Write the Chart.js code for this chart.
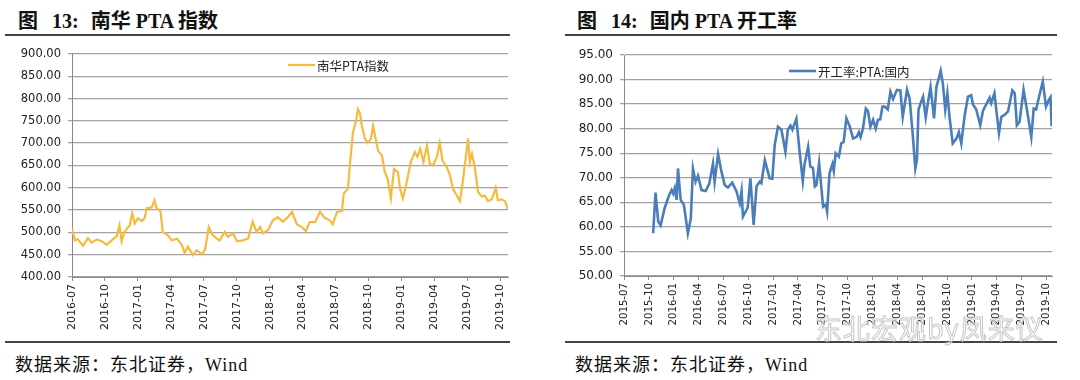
<!DOCTYPE html>
<html>
<head>
<meta charset="utf-8">
<script src="https://cdn.jsdelivr.net/npm/chart.js@4.4.0/dist/chart.umd.min.js"></script>
<style>
  body { margin: 0; width: 1080px; height: 380px; background: #fff; position: relative; overflow: hidden; }
  .title { position: absolute; top: 5px; font: bold 20px "Liberation Serif", "Noto Sans CJK SC", serif; color: #111; white-space: pre; }
  .rule { position: absolute; height: 2px; background: #444; }
  .source { position: absolute; top: 350px; font: 18px "Liberation Serif", "Noto Sans CJK SC", serif; color: #111; letter-spacing: 1px; }
  canvas { position: absolute; top: 40px; }
  .mark { position: absolute; left: 815px; top: 308px; font: 27px "Noto Sans CJK SC", sans-serif; color: rgba(255,255,255,0.4); -webkit-text-stroke: 1px #c8c8c8; letter-spacing: 1px; }
</style>
</head>
<body>
<div class="title" style="left:18px">图<span style="margin-left:14px">13:</span><span style="margin-left:12px">南华 PTA 指数</span></div>
<div class="rule" style="left:5px; width:505px; top:34px"></div>
<canvas id="ptaChart" width="520" height="300" style="left:0px"></canvas>
<div class="rule" style="left:5px; width:505px; top:341px"></div>
<div class="source" style="left:15px">数据来源：东北证券，Wind</div>

<div class="title" style="left:577px">图<span style="margin-left:14px">14:</span><span style="margin-left:12px">国内 PTA 开工率</span></div>
<div class="rule" style="left:565px; width:492px; top:34px"></div>
<canvas id="rateChart" width="510" height="300" style="left:560px"></canvas>
<div class="rule" style="left:565px; width:492px; top:341px"></div>
<div class="source" style="left:575px">数据来源：东北证券，Wind</div>
<div class="mark">东北宏观by凤来仪</div>

<script>
// 南华PTA指数
const ptaDates = [
  '2016-07-01','2016-07-09','2016-07-17','2016-08-01','2016-08-15','2016-08-26','2016-09-09','2016-09-23',
  '2016-10-06','2016-10-20','2016-11-03','2016-11-11','2016-11-17','2016-11-25','2016-12-09','2016-12-16',
  '2016-12-23','2017-01-01','2017-01-12','2017-01-20','2017-01-26','2017-02-09','2017-02-17','2017-02-22',
  '2017-03-03','2017-03-09','2017-03-23','2017-04-04','2017-04-18','2017-05-01','2017-05-09','2017-05-18',
  '2017-06-01','2017-06-12','2017-06-26','2017-07-04','2017-07-09','2017-07-15','2017-07-26','2017-08-07',
  '2017-08-15','2017-08-29','2017-09-07','2017-09-21','2017-10-02','2017-10-18','2017-11-02','2017-11-15',
  '2017-11-26','2017-12-05','2017-12-13','2017-12-27','2018-01-10','2018-01-24','2018-02-07','2018-02-21',
  '2018-03-02','2018-03-16','2018-03-30','2018-04-10','2018-04-21','2018-05-05','2018-05-19','2018-06-02',
  '2018-06-16','2018-06-24','2018-07-05','2018-07-19','2018-07-24','2018-08-05','2018-08-11','2018-08-19',
  '2018-08-28','2018-09-02','2018-09-08','2018-09-13','2018-09-22','2018-09-30','2018-10-08','2018-10-14',
  '2018-10-22','2018-10-28','2018-11-08','2018-11-16','2018-11-24','2018-12-02','2018-12-11','2018-12-22',
  '2018-12-28','2019-01-05','2019-01-16','2019-01-27','2019-02-08','2019-02-15','2019-02-23','2019-03-01',
  '2019-03-11','2019-03-19','2019-03-28','2019-04-08','2019-04-16','2019-04-24','2019-05-05','2019-05-14',
  '2019-05-22','2019-06-02','2019-06-11','2019-06-19','2019-07-03','2019-07-08','2019-07-14','2019-07-22',
  '2019-07-31','2019-08-11','2019-08-19','2019-08-28','2019-09-08','2019-09-19','2019-09-25','2019-10-05',
  '2019-10-14','2019-10-22'
];
const ptaValues = [
  508, 482, 485, 470, 487, 477, 484, 480,
  472, 482, 491, 516, 480, 501, 516, 543,
  520, 532, 525, 532, 554, 556, 572, 556,
  546, 501, 494, 482, 486, 472, 454, 468,
  449, 460, 451, 460, 482, 512, 494, 486,
  482, 501, 490, 498, 480, 482, 486, 524,
  501, 512, 498, 505, 527, 534, 524, 534,
  546, 518, 512, 503, 523, 523, 546, 532,
  527, 518, 546, 548, 587, 598, 657, 724,
  750, 776, 767, 739, 710, 700, 710, 739,
  706, 683, 672, 635, 620, 576, 642, 635,
  598, 576, 613, 657, 680, 669, 687, 657,
  695, 654, 650, 669, 700, 661, 646, 628,
  598, 583, 570, 613, 710, 657, 676, 646,
  591, 580, 583, 570, 574, 600, 572, 574,
  570, 553
];

// 开工率:PTA:国内
const rateDates = [
  '2015-10-17','2015-10-26','2015-11-05','2015-11-14','2015-11-29','2015-12-15','2015-12-24','2015-12-30',
  '2016-01-05','2016-01-12','2016-01-17','2016-01-27','2016-02-08','2016-02-23','2016-03-03','2016-03-11',
  '2016-03-21','2016-03-30','2016-04-12','2016-04-28','2016-05-10','2016-05-24','2016-05-30','2016-06-12',
  '2016-06-25','2016-07-06','2016-07-18','2016-08-03','2016-08-19','2016-08-31','2016-09-07','2016-09-12',
  '2016-09-30','2016-10-09','2016-10-21','2016-11-01','2016-11-13','2016-11-19','2016-12-01','2016-12-19',
  '2016-12-29','2017-01-07','2017-01-19','2017-02-01','2017-02-16','2017-02-25','2017-03-04','2017-03-11',
  '2017-03-26','2017-04-07','2017-04-19','2017-04-25','2017-05-08','2017-05-16','2017-05-26','2017-06-02',
  '2017-06-08','2017-06-18','2017-07-02','2017-07-12','2017-07-17','2017-07-26','2017-08-06','2017-08-11',
  '2017-08-18','2017-08-30','2017-09-08','2017-09-17','2017-09-27','2017-10-09','2017-10-21','2017-11-03',
  '2017-11-12','2017-11-18','2017-11-27','2017-12-07','2017-12-15','2017-12-24','2018-01-03','2018-01-13',
  '2018-01-21','2018-01-30','2018-02-07','2018-02-15','2018-02-27','2018-03-06','2018-03-16','2018-03-30',
  '2018-04-12','2018-04-21','2018-05-06','2018-05-16','2018-05-28','2018-06-06','2018-06-12','2018-06-18',
  '2018-06-28','2018-07-04','2018-07-14','2018-07-22','2018-08-01','2018-08-14','2018-08-23','2018-09-01',
  '2018-09-08','2018-09-16','2018-09-25','2018-10-02','2018-10-10','2018-10-22','2018-11-05','2018-11-14',
  '2018-11-23','2018-12-05','2018-12-17','2018-12-29','2019-01-05','2019-01-17','2019-02-01','2019-02-11',
  '2019-02-23','2019-03-05','2019-03-11','2019-03-23','2019-04-09','2019-04-18','2019-04-30','2019-05-12',
  '2019-05-28','2019-06-06','2019-06-14','2019-06-24','2019-07-08','2019-07-24','2019-08-06','2019-08-15',
  '2019-08-24','2019-09-04','2019-09-18','2019-09-30','2019-10-10','2019-10-16','2019-10-20'
];
const rateValues = [
  58.7, 67.0, 61.1, 60.3, 63.8, 66.5, 67.5, 66.8,
  67.9, 65.5, 71.9, 65.5, 64.5, 58.7, 61.7, 71.9,
  69.2, 70.4, 67.5, 67.3, 68.8, 72.9, 69.2, 74.8,
  71.2, 68.5, 68.0, 69.0, 67.2, 64.8, 67.3, 62.1,
  63.9, 69.9, 60.4, 68.3, 69.2, 68.9, 73.6, 69.9,
  69.8, 76.7, 80.4, 79.8, 75.3, 79.8, 80.6, 79.8,
  82.0, 75.3, 69.3, 72.6, 76.3, 72.3, 72.0, 68.2,
  68.5, 73.0, 64.1, 64.5, 63.1, 70.9, 72.8, 71.4,
  75.0, 74.3, 77.0, 77.3, 82.1, 80.4, 78.0, 78.3,
  79.3, 78.3, 80.0, 84.1, 83.6, 80.4, 81.8, 80.0,
  81.8, 81.9, 84.5, 84.5, 83.9, 87.5, 86.0, 87.9,
  87.8, 82.4, 87.9, 86.0, 78.4, 71.9, 73.6, 83.9,
  85.5, 86.5, 82.3, 85.2, 88.5, 82.1, 88.5, 90.3,
  91.8, 89.2, 83.9, 87.2, 82.4, 77.0, 78.0, 79.3,
  77.0, 82.8, 86.5, 86.8, 84.9, 83.9, 80.7, 83.6,
  84.9, 86.3, 85.2, 87.2, 79.1, 82.4, 82.8, 83.5,
  87.8, 87.2, 80.7, 81.4, 87.9, 82.8, 78.3, 84.1,
  83.9, 86.5, 89.6, 84.5, 85.9, 86.4, 80.5
];

const gridColor = '#a3a3a3';
const axisColor = '#8a8a8a';

// 'YYYY-MM-DD' -> months since base month
const monthOffset = (s, baseY, baseM) => {
  const [y, m, d] = s.split('-').map(Number);
  return (y - baseY) * 12 + (m - baseM) + (d - 1) / 31;
};
const monthLabel = (v, baseY, baseM) => {
  const t = baseM - 1 + v;
  const y = baseY + Math.floor(t / 12);
  const m = (t % 12) + 1;
  return `${y}-${String(m).padStart(2, '0')}`;
};

// legend drawn inside plot area
const inlineLegend = {
  id: 'inlineLegend',
  afterDraw(chart, args, opts) {
    const ctx = chart.ctx;
    const ds = chart.data.datasets[0];
    ctx.save();
    ctx.strokeStyle = ds.borderColor;
    ctx.lineWidth = ds.borderWidth;
    ctx.beginPath();
    ctx.moveTo(opts.x, opts.y);
    ctx.lineTo(opts.x + 27, opts.y);
    ctx.stroke();
    ctx.fillStyle = '#222';
    ctx.font = '12.5px "Noto Sans CJK SC", sans-serif';
    ctx.textBaseline = 'middle';
    ctx.fillText(ds.label, opts.x + 29, opts.y + 1);
    ctx.restore();
  }
};

function makeChart(id, cfg) {
  const points = cfg.dates.map((d, i) => ({ x: monthOffset(d, cfg.baseY, cfg.baseM), y: cfg.values[i] }));
  return new Chart(document.getElementById(id), {
    type: 'line',
    data: {
      datasets: [{
        label: cfg.label,
        data: points,
        borderColor: cfg.color,
        borderWidth: cfg.lineWidth,
        pointRadius: 0,
        tension: 0,
        fill: false
      }]
    },
    options: {
      responsive: false,
      animation: false,
      layout: { padding: cfg.padding },
      plugins: {
        legend: { display: false },
        tooltip: { enabled: false },
        inlineLegend: cfg.legend
      },
      scales: {
        x: {
          type: 'linear',
          min: 0,
          max: cfg.xMax,
          afterFit: s => { s.height = cfg.xHeight; },
          ticks: {
            stepSize: 3,
            includeBounds: false,
            autoSkip: false,
            minRotation: 90,
            maxRotation: 90,
            padding: 3,
            color: '#222',
            font: { family: 'DejaVu Sans', size: cfg.xFont },
            callback: v => monthLabel(v, cfg.baseY, cfg.baseM)
          },
          grid: { drawOnChartArea: false, drawTicks: true, tickLength: 4, color: axisColor },
          border: { color: axisColor, width: 1 }
        },
        y: {
          min: cfg.yMin,
          max: cfg.yMax,
          afterFit: s => { s.width = cfg.yWidth; },
          ticks: {
            stepSize: cfg.yStep,
            padding: 7,
            color: '#222',
            font: { family: 'DejaVu Sans', size: cfg.yFont },
            callback: v => v.toFixed(2)
          },
          grid: { color: gridColor, lineWidth: 1.3, tickLength: 4 },
          border: { color: axisColor, width: 1 }
        }
      }
    },
    plugins: [inlineLegend]
  });
}

makeChart('ptaChart', {
  label: '南华PTA指数', dates: ptaDates, values: ptaValues, baseY: 2016, baseM: 7,
  color: '#F5BB3E', lineWidth: 2.2, xMax: 39.7, yMin: 400, yMax: 900, yStep: 50,
  padding: { top: 13, right: 12, left: 0, bottom: 0 }, yWidth: 72, xHeight: 63,
  xFont: 11, yFont: 11.5, legend: { x: 288, y: 25 }
});

makeChart('rateChart', {
  label: '开工率:PTA:国内', dates: rateDates, values: rateValues, baseY: 2015, baseM: 7,
  color: '#4A7EBB', lineWidth: 2.6, xMax: 51.66, yMin: 50, yMax: 95, yStep: 5,
  padding: { top: 15, right: 18, left: 0, bottom: 0 }, yWidth: 64, xHeight: 64,
  xFont: 10.2, yFont: 12, legend: { x: 229, y: 31 }
});
</script>
</body>
</html>
